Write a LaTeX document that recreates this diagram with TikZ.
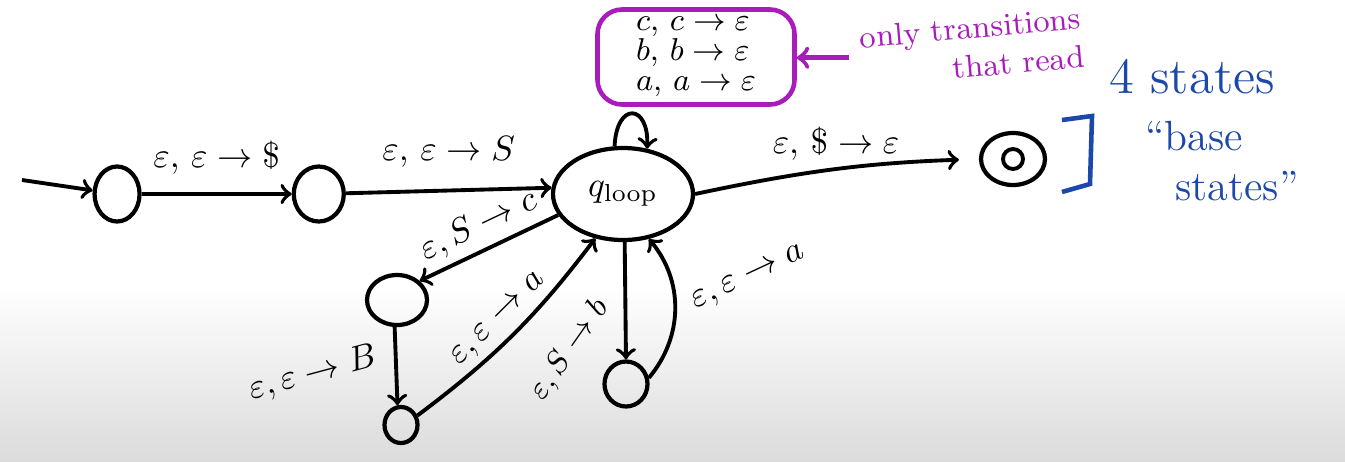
\documentclass[tikz,border=0pt]{standalone}
\usepackage{tikz}
\usetikzlibrary{shapes.geometric, arrows, positioning}
\usepackage{amsmath}

\definecolor{penpurple}{RGB}{168,28,188}
\definecolor{penblue}{RGB}{28,72,172}

\begin{document}
\begin{tikzpicture}[
    state/.style={ellipse, draw=black, line width=1.2pt, inner sep=0pt},
    arrow/.style={->, line width=1.1pt},
    lbl/.style={font=\normalsize, inner sep=2pt}
]

% Background
\useasboundingbox (0,0) rectangle (13.45,4.61);
\fill[white] (0,1.75) rectangle (13.45,4.61);
\shade[top color=white, bottom color=black!14] (0,0) rectangle (13.45,1.75);

% Nodes
\node (qloop) [state, minimum width=1.4cm, minimum height=0.92cm] at (6.23,2.67) {$q_{\mathrm{loop}}$};
\node (q1) [state, left=2.05cm of qloop, minimum width=0.5cm, minimum height=0.55cm] {};
\node (q0) [state, left=1.5cm of q1, minimum width=0.45cm, minimum height=0.55cm] {};
\coordinate (start) at (0.22,2.81);
\node (qf) [state, minimum width=0.64cm, minimum height=0.52cm] at (10.13,3.02) {};
\node (qfdot) [circle, draw=black, line width=1.1pt, minimum size=0.2cm, inner sep=0pt] at (qf) {};

% Branch states below the loop
\node (qA) [state, minimum width=0.6cm, minimum height=0.5cm] at (3.97,1.61) {};
\node (qB) [state, minimum width=0.33cm, minimum height=0.36cm] at (4.01,0.36) {};
\node (qC) [state, minimum width=0.43cm, minimum height=0.45cm] at (6.26,0.77) {};

% Reading transitions
\node (readbox) [draw=penpurple, line width=1.3pt, rounded corners=7pt, minimum width=1.97cm, minimum height=0.95cm, align=left, inner sep=2pt, font={\fontsize{9.5}{8.6}\selectfont}] at (6.96,4.04)
  {$c,\, c \to \varepsilon$\\ $b,\, b \to \varepsilon$\\ $a,\, a \to \varepsilon$};
\node (note) [text=penpurple, align=right, rotate=5, font=\small] at (9.72,4.14) {only transitions\\that read};

% Base states remark
\node (count) [text=penblue, font=\Large] at (11.92,3.84) {4 states};
\node (base) [text=penblue, font=\large, align=left] at (12.22,3.0) {``base\\\hspace{0.3cm}states''};
\draw[penblue, line width=1.3pt] (10.62,3.41) -- (10.92,3.45) -- (10.9,2.77) -- (10.62,2.69);

% Arrows
\draw[arrow] (start) -- (q0);
\draw[arrow] (q0) -- (q1) node[lbl, midway, above=3pt] {$\varepsilon,\, \varepsilon \to \$$};
\draw[arrow] (q1) -- (qloop.175) node[lbl, midway, above=4pt] {$\varepsilon,\, \varepsilon \to S$};
\draw[arrow, shorten >=0.2cm] (qloop.east) to[bend left=5] node[lbl, midway, above] {$\varepsilon,\, \$ \to \varepsilon$} (qf.west);
\draw[arrow] (qloop.100) .. controls +(0.02,0.45) and +(0.02,0.45) .. (qloop.62);
\draw[arrow, penpurple, line width=1.3pt] (note.west) -- (note.west -| readbox.east);
\draw[arrow] (qloop.198) -- (qA.40) node[lbl, midway, sloped, above] {$\varepsilon, S \to c$};
\draw[arrow] (qA.265) -- (qB.100) node[lbl, pos=0.35, left=3pt, rotate=15] {$\varepsilon, \varepsilon \to B$};
\draw[arrow] (qB.30) to[bend right=8] node[lbl, midway, sloped, above] {$\varepsilon, \varepsilon \to a$} (qloop.238);
\draw[arrow] (qloop.272) -- (qC.north) node[lbl, font=\small, pos=0.45, left=5pt, rotate=55] {$\varepsilon, S \to b$};
\draw[arrow] (qC.15) to[bend right=40] node[lbl, midway, right=3pt, rotate=25] {$\varepsilon, \varepsilon \to a$} (qloop.300);

\end{tikzpicture}
\end{document}
